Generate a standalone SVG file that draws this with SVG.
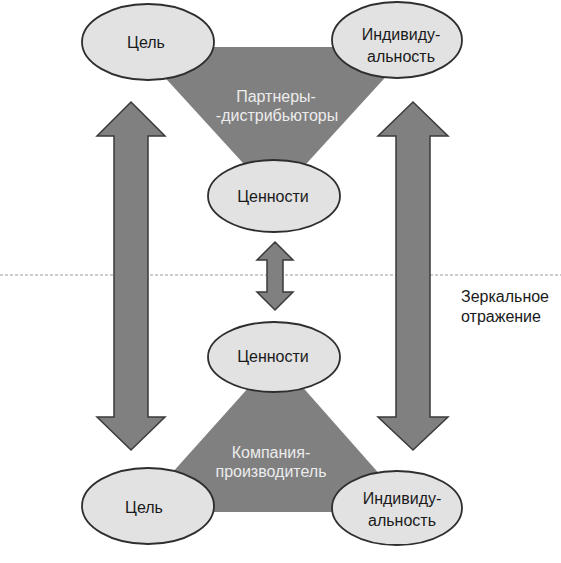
<svg xmlns="http://www.w3.org/2000/svg" width="561" height="563" viewBox="0 0 561 563">
<style>
.bg{fill:#ffffff}
.tri{fill:#808080;stroke:none}
.arrow{fill:#808080;stroke:#3a3a3a;stroke-width:1.5;stroke-linejoin:miter}
.node{fill:#e2e2e2;stroke:#2e2e2e;stroke-width:1.8}
.t{font-family:"Liberation Sans",Arial,sans-serif;font-size:16px;fill:#1a1a1a;text-anchor:middle}
.tw{font-family:"Liberation Sans",Arial,sans-serif;font-size:16px;fill:#ececec;text-anchor:middle}
.note{font-family:"Liberation Sans",Arial,sans-serif;font-size:16px;fill:#1a1a1a}
.dash{stroke:#9a9a9a;stroke-width:1;stroke-dasharray:3 2;fill:none}
</style>
<rect class="bg" x="0" y="0" width="561" height="563"/>
<line class="dash" x1="0" y1="275" x2="561" y2="275"/>
<g id="triangle-top">
<polygon class="tri" points="137,47 413,47 275,198"/>
<text class="tw" x="276" y="102">Партнеры-</text>
<text class="tw" x="277" y="121">-дистрибьюторы</text>
</g>
<g id="triangle-bottom">
<polygon class="tri" points="276,357 137,512 413,512"/>
<text class="tw" x="271" y="458">Компания-</text>
<text class="tw" x="271" y="477">производитель</text>
</g>
<g id="connectors">
<polygon class="arrow" points="131,102 165,136 148,136 148,417 165,417 131,450 97,417 114,417 114,136 97,136"/>
<polygon class="arrow" points="413,102 448,136 430,136 430,417 448,417 413,450 378,417 396,417 396,136 378,136"/>
<polygon class="arrow" points="275,242 293,260 283,260 283,292 293,292 275,310 257,292 267,292 267,260 257,260"/>
</g>
<g id="goal-top">
<ellipse class="node" cx="148" cy="42" rx="66" ry="38"/>
<text class="t" x="146" y="48">Цель</text>
</g>
<g id="individuality-top">
<ellipse class="node" cx="397" cy="40" rx="65" ry="38"/>
<text class="t" x="401" y="40">Индивиду-</text>
<text class="t" x="401" y="62">альность</text>
</g>
<g id="values-top">
<ellipse class="node" cx="274" cy="196" rx="66" ry="36"/>
<text class="t" x="273" y="202">Ценности</text>
</g>
<g id="values-bottom">
<ellipse class="node" cx="274" cy="357" rx="66" ry="35"/>
<text class="t" x="273" y="362">Ценности</text>
</g>
<g id="goal-bottom">
<ellipse class="node" cx="148" cy="506" rx="66" ry="38"/>
<text class="t" x="144" y="513">Цель</text>
</g>
<g id="individuality-bottom">
<ellipse class="node" cx="397" cy="508" rx="65" ry="37"/>
<text class="t" x="402" y="504">Индивиду-</text>
<text class="t" x="402" y="526">альность</text>
</g>
<g id="mirror-label">
<text class="note" x="461" y="302">Зеркальное</text>
<text class="note" x="461" y="322">отражение</text>
</g>
</svg>
